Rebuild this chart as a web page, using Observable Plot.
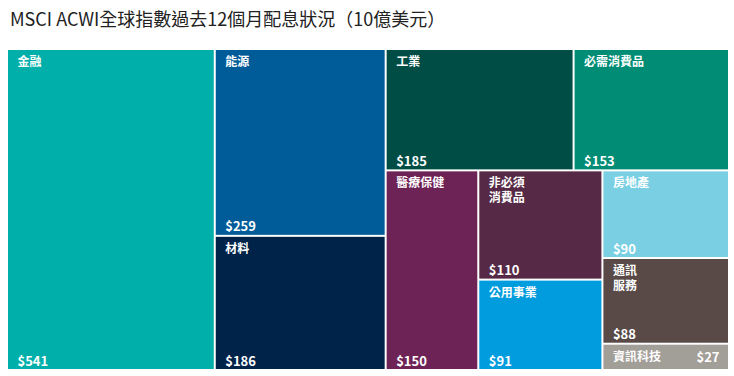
<!DOCTYPE html>
<html><head><meta charset="utf-8">
<script src="https://cdn.jsdelivr.net/npm/d3@7"></script>
<script src="https://cdn.jsdelivr.net/npm/@observablehq/plot@0.6"></script>
<style>
body{margin:0;background:#fff;font-family:"Noto Sans CJK TC","Noto Sans",sans-serif}
#title{font-size:18px;color:#222;padding:5px 0 0 10px;height:39px;line-height:26px;white-space:nowrap}
</style></head><body>
<div id="title">MSCI ACWI全球指數過去12個月配息狀況（10億美元）</div>
<div id="chart"></div>
<script>
const sectors = ["金融","能源","材料","工業","必需消費品","醫療保健","非必須消費品","公用事業","房地產","通訊服務","資訊科技"];
const labels = ["金融","能源","材料","工業","必需消費品","醫療保健","非必須\n消費品","公用事業","房地產","通訊\n服務","資訊科技"];
const values = [541,259,186,185,153,150,110,91,90,88,27];
const colors = ["#00AFAA","#005C98","#00234A","#004D46","#008C75","#6E2357","#562A46","#009CDE","#7ACFE3","#594A47","#A29E98"];

const W = 720, H = 319;

// strip-based tiling (as in the reference): number of tiles per strip and strip direction
function stripTile(parent, x0, y0, x1, y1) {
  const strips = [[1,"col"],[2,"col"],[2,"row"],[1,"col"],[2,"col"],[3,"col"]];
  const nodes = parent.children;
  let remaining = parent.value, i = 0;
  for (const [n, dir] of strips) {
    const group = nodes.slice(i, i + n); i += n;
    const sum = d3.sum(group, d => d.value);
    const fake = {children: group, value: sum};
    if (dir === "col") {
      const w = (x1 - x0) * sum / remaining;
      d3.treemapSlice(fake, x0, y0, x0 + w, y1);
      x0 += w;
    } else {
      const h = (y1 - y0) * sum / remaining;
      d3.treemapDice(fake, x0, y0, x1, y0 + h);
      y0 += h;
    }
    remaining -= sum;
  }
}

const root = d3.hierarchy({children: sectors.map((s,i)=>({name:s,label:labels[i],value:values[i]}))})
  .sum(d=>d.value).sort((a,b)=>b.value-a.value);
d3.treemap().size([W,H]).paddingInner(2).tile(stripTile)(root);
const tiles = root.leaves().map(l=>{
  const lines = l.data.label.split("\n");
  return {...l.data, line1: lines[0], line2: lines[1] || "", x0:l.x0, x1:l.x1, y0:l.y0, y1:l.y1, short:(l.y1-l.y0)<35};
});
const tall = tiles.filter(d=>!d.short), short = tiles.filter(d=>d.short);
const twoLine = tall.filter(d=>d.line2);

const chart = Plot.plot({
  width: 734, height: 331,
  marginLeft: 8, marginRight: 6, marginTop: 6, marginBottom: 6,
  x: {domain:[0,W], axis:null},
  y: {domain:[H,0], axis:null},
  color: {domain: sectors, range: colors},
  style: {fontFamily:'"Noto Sans CJK TC","Noto Sans",sans-serif', background:"#fff"},
  marks: [
    Plot.rect(tiles, {x1:"x0", x2:"x1", y1:"y0", y2:"y1", fill:"name"}),
    Plot.text(tall, {x:"x0", y:"y0", text:"line1", textAnchor:"start", lineAnchor:"top", dx:9, dy:7, fill:"white", fontSize:12, fontWeight:"bold"}),
    Plot.text(twoLine, {x:"x0", y:"y0", text:"line2", textAnchor:"start", lineAnchor:"top", dx:9, dy:22, fill:"white", fontSize:12, fontWeight:"bold"}),
    Plot.text(tall, {x:"x0", y:"y1", text:d=>"$"+d.value, textAnchor:"start", lineAnchor:"bottom", dx:9, dy:-4, fill:"white", fontSize:13, fontWeight:"bold"}),
    Plot.text(short, {x:"x0", y:d=>(d.y0+d.y1)/2, text:"label", textAnchor:"start", lineAnchor:"middle", dx:9, fill:"white", fontSize:12, fontWeight:"bold"}),
    Plot.text(short, {x:"x1", y:d=>(d.y0+d.y1)/2, text:d=>"$"+d.value, textAnchor:"end", lineAnchor:"middle", dx:-9, fill:"white", fontSize:13, fontWeight:"bold"})
  ]
});
document.getElementById("chart").appendChild(chart);
</script>
</body></html>
